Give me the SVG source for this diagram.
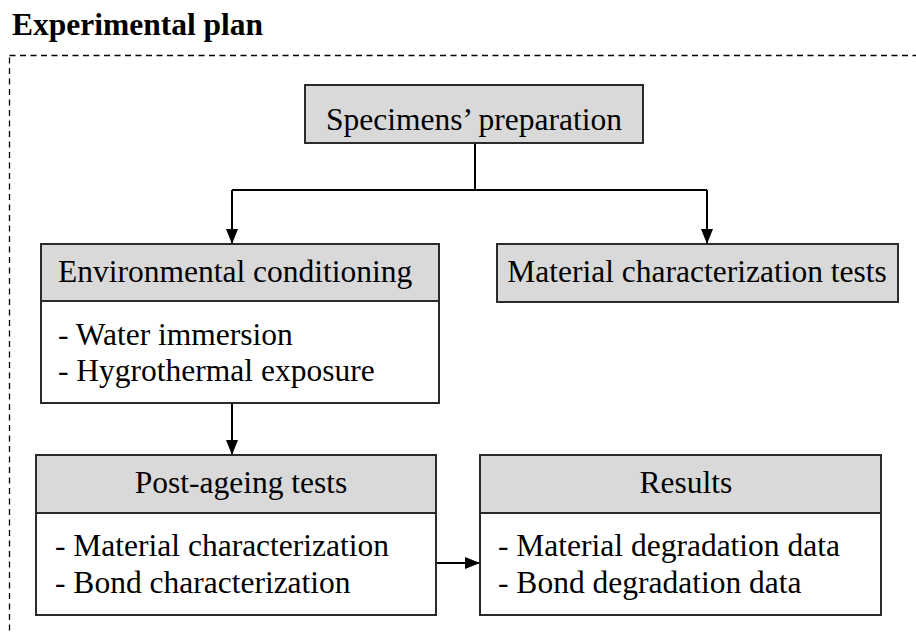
<svg xmlns="http://www.w3.org/2000/svg" width="916" height="634" viewBox="0 0 916 634">
  <style>
    .lbl { font-family: 'Liberation Serif', 'Times New Roman', serif; font-size: 31.5px; fill: #000; }
    .ttl { font-family: 'Liberation Serif', 'Times New Roman', serif; font-size: 31.5px; font-weight: bold; fill: #000; }
    .hdr { fill: #d9d9d9; stroke: #2b2b2b; stroke-width: 2; }
    .body { fill: #fff; stroke: #2b2b2b; stroke-width: 2; }
    .conn { fill: none; stroke: #000; stroke-width: 2; }
  </style>
  <defs>
    <marker id="arr" viewBox="0 0 15 12" refX="15" refY="6" markerWidth="15" markerHeight="12" markerUnits="userSpaceOnUse" orient="auto">
      <path d="M0,0 L15,6 L0,12 Z" fill="#000"/>
    </marker>
  </defs>
  <rect width="916" height="634" fill="#fff"/>
  <text class="ttl" x="12" y="35">Experimental plan</text>
  <rect x="9.5" y="55.5" width="960" height="640" fill="none" stroke="#000" stroke-width="1.3" stroke-dasharray="6,4.5"/>

  <g id="connectors">
    <path class="conn" d="M475,143 V190"/>
    <path class="conn" d="M232,190 H707"/>
    <path class="conn" d="M232,190 V244" marker-end="url(#arr)"/>
    <path class="conn" d="M707,190 V244" marker-end="url(#arr)"/>
    <path class="conn" d="M232,403 V455" marker-end="url(#arr)"/>
    <path class="conn" d="M436,563 H480" marker-end="url(#arr)"/>
  </g>

  <g id="specimens">
    <rect class="hdr" x="305" y="85" width="338" height="58"/>
    <text class="lbl" x="474" y="130" text-anchor="middle">Specimens’ preparation</text>
  </g>

  <g id="environmental">
    <rect class="hdr" x="41" y="244" width="398" height="57"/>
    <rect class="body" x="41" y="301" width="398" height="102"/>
    <text class="lbl" x="58" y="282">Environmental conditioning</text>
    <text class="lbl" x="58" y="345">- Water immersion</text>
    <text class="lbl" x="58" y="381">- Hygrothermal exposure</text>
  </g>

  <g id="material-tests">
    <rect class="hdr" x="497" y="244" width="401" height="58"/>
    <text class="lbl" x="697" y="282" text-anchor="middle">Material characterization tests</text>
  </g>

  <g id="post-ageing">
    <rect class="hdr" x="36" y="455" width="400" height="58"/>
    <rect class="body" x="36" y="513" width="400" height="102"/>
    <text class="lbl" x="241" y="493" text-anchor="middle">Post-ageing tests</text>
    <text class="lbl" x="55" y="556">- Material characterization</text>
    <text class="lbl" x="55" y="593">- Bond characterization</text>
  </g>

  <g id="results">
    <rect class="hdr" x="480" y="455" width="401" height="58"/>
    <rect class="body" x="480" y="513" width="401" height="102"/>
    <text class="lbl" x="686" y="493" text-anchor="middle">Results</text>
    <text class="lbl" x="498" y="556">- Material degradation data</text>
    <text class="lbl" x="498" y="593">- Bond degradation data</text>
  </g>
</svg>
